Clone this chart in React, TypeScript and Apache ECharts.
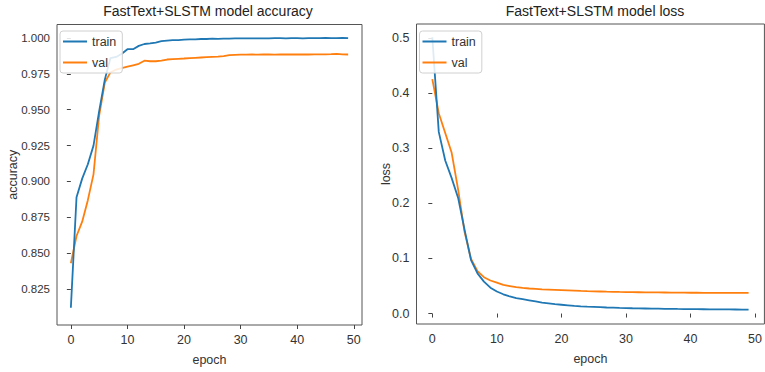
import React, { useEffect, useRef } from "react";
import * as echarts from "echarts";

const epochs: number[] = Array.from({ length: 50 }, (_, i) => i);

const trainAcc: number[] = [
  0.812, 0.889, 0.902, 0.912, 0.925, 0.949, 0.971, 0.986, 0.9868, 0.989,
  0.9922, 0.9922, 0.9945, 0.9958, 0.9962, 0.9968, 0.9978, 0.9982, 0.9985, 0.9985,
  0.9988, 0.999, 0.999, 0.9993, 0.9993, 0.9995, 0.9994, 0.9996, 0.9996, 0.9997,
  0.9997, 0.9997, 0.9998, 0.9998, 0.9997, 0.9998, 0.9999, 0.9999, 0.9998, 0.9999,
  0.9999, 0.9998, 0.9999, 0.9999, 0.9999, 1.0, 0.9999, 0.9999, 1.0, 0.9999,
];
const valAcc: number[] = [
  0.843, 0.862, 0.872, 0.887, 0.905, 0.946, 0.969, 0.976, 0.978, 0.979,
  0.98, 0.981, 0.982, 0.9842, 0.9838, 0.9838, 0.9842, 0.985, 0.9853, 0.9855,
  0.9857, 0.986, 0.9862, 0.9864, 0.9866, 0.9868, 0.987, 0.9874, 0.988, 0.9883,
  0.9884, 0.9884, 0.9885, 0.9884, 0.9885, 0.9885, 0.9884, 0.9885, 0.9886, 0.9885,
  0.9885, 0.9886, 0.9885, 0.9886, 0.9886, 0.9886, 0.9887, 0.9889, 0.9886, 0.9885,
];
const trainLoss: number[] = [
  0.502, 0.33, 0.278, 0.246, 0.21, 0.152, 0.097, 0.073, 0.058, 0.047,
  0.04, 0.035, 0.031, 0.028, 0.026, 0.024, 0.022, 0.02, 0.0185, 0.017,
  0.016, 0.015, 0.014, 0.0132, 0.0125, 0.012, 0.0115, 0.011, 0.0106, 0.0102,
  0.0099, 0.0096, 0.0094, 0.0092, 0.009, 0.0088, 0.0086, 0.0085, 0.0083, 0.0082,
  0.008, 0.0079, 0.0078, 0.0077, 0.0076, 0.0075, 0.0074, 0.0073, 0.0072, 0.0071,
];
const valLoss: number[] = [
  0.426, 0.364, 0.328, 0.292, 0.225, 0.148, 0.099, 0.077, 0.066, 0.06,
  0.056, 0.052, 0.05, 0.048, 0.0465, 0.0455, 0.0448, 0.044, 0.0435, 0.043,
  0.0425, 0.042, 0.0415, 0.041, 0.0406, 0.0403, 0.04, 0.0397, 0.0395, 0.0392,
  0.039, 0.0388, 0.0387, 0.0385, 0.0384, 0.0383, 0.0382, 0.0381, 0.038, 0.0379,
  0.0378, 0.0378, 0.0377, 0.0377, 0.0376, 0.0376, 0.0376, 0.0375, 0.0375, 0.0375,
];

const xTicks: number[] = [0, 10, 20, 30, 40, 50];
const accTickStep = 0.025;
const lossTicks: number[] = [0.0, 0.1, 0.2, 0.3, 0.4, 0.5];

const titles: string[] = ["FastText+SLSTM model accuracy", "FastText+SLSTM model loss"];
const yNames: string[] = ["accuracy", "loss"];
const seriesNames: string[] = ["train", "val"];

const FONT = "'Liberation Sans', Arial, sans-serif";
const BLUE = "#1f77b4";
const ORANGE = "#ff7f0e";

export default function App() {
  const ref = useRef<HTMLDivElement>(null);
  useEffect(() => {
    if (!ref.current) return;
    const chart = echarts.init(ref.current, null, { renderer: "svg" });
    const pairs = (vals: number[]) => epochs.map((e, i) => [e, vals[i]]);

    const xAxisBase = (gridIndex: number) => ({
      type: "value",
      gridIndex,
      min: -2.45,
      max: 51.45,
      name: "epoch",
      nameLocation: "middle",
      nameGap: 28,
      nameMoveOverlap: false,
      nameTextStyle: { fontFamily: FONT, fontSize: 12.5, color: "#333" },
      axisLine: { show: false },
      splitLine: { show: false },
      axisTick: {
        show: true,
        inside: false,
        length: 4,
        customValues: xTicks,
        lineStyle: { color: "#444" },
      },
      axisLabel: {
        customValues: xTicks,
        margin: 8,
        interval: 0,
        hideOverlap: false,
        fontFamily: FONT,
        fontSize: 12.5,
        color: "#333",
        showMinLabel: true,
        showMaxLabel: true,
      },
    });

    const yStyle = (gridIndex: number, nameGap: number) => ({
      type: "value",
      gridIndex,
      name: yNames[gridIndex],
      nameLocation: "middle",
      nameGap,
      nameMoveOverlap: false,
      nameTextStyle: { fontFamily: FONT, fontSize: 12.5, color: "#333" },
      axisLine: { show: false },
      splitLine: { show: false },
    });
    const labelStyle = {
      margin: 7,
      hideOverlap: false,
      fontFamily: FONT,
      fontSize: 11.5,
      color: "#333",
    };

    const legendBase = (left: number) => ({
      orient: "vertical",
      left,
      top: 31,
      data: seriesNames,
      icon: "rect",
      itemWidth: 24,
      itemHeight: 2,
      itemGap: 8,
      backgroundColor: "rgba(255,255,255,0.85)",
      borderColor: "#d0d0d0",
      borderWidth: 1,
      borderRadius: 3,
      padding: [4, 6, 4, 3],
      textStyle: { fontFamily: FONT, fontSize: 12.5, color: "#333" },
      selectedMode: false,
    });

    const lineSeries = (name: string, vals: number[], idx: number, color: string) => ({
      type: "line",
      name,
      data: pairs(vals),
      xAxisIndex: idx,
      yAxisIndex: idx,
      showSymbol: false,
      symbol: "none",
      lineStyle: { color, width: 1.8 },
      itemStyle: { color },
      z: name === "train" ? 3 : 2,
    });

    chart.setOption({
      animation: false,
      backgroundColor: "#ffffff",
      grid: [
        { left: 57, top: 24.5, width: 305, height: 300.5, show: true, borderColor: "#555", borderWidth: 1, backgroundColor: "transparent" },
        { left: 416.5, top: 24, width: 357.5, height: 300, show: true, borderColor: "#555", borderWidth: 1, backgroundColor: "transparent" },
      ],
      xAxis: [xAxisBase(0), xAxisBase(1)],
      yAxis: [
        {
          ...yStyle(0, 38),
          min: 0.8,
          max: 1.0094,
          interval: accTickStep,
          axisTick: { show: true, inside: false, length: 4, lineStyle: { color: "#444" } },
          axisLabel: {
            ...labelStyle,
            showMinLabel: false,
            showMaxLabel: false,
            formatter: (v: number) => (v < 0.81 ? "" : v.toFixed(3)),
          },
        },
        {
          ...yStyle(1, 24),
          min: -0.019,
          max: 0.526,
          axisTick: { show: true, inside: false, length: 4, customValues: lossTicks, lineStyle: { color: "#444" } },
          axisLabel: {
            ...labelStyle,
            fontSize: 12.5,
            customValues: lossTicks,
            interval: 0,
            formatter: (v: number) => v.toFixed(1),
          },
        },
      ],
      legend: [legendBase(60), legendBase(419.5)],
      series: [
        lineSeries(seriesNames[0], trainAcc, 0, BLUE),
        lineSeries(seriesNames[1], valAcc, 0, ORANGE),
        lineSeries(seriesNames[0], trainLoss, 1, BLUE),
        lineSeries(seriesNames[1], valLoss, 1, ORANGE),
      ],
      graphic: [
        {
          type: "text",
          x: 208,
          y: 11,
          style: { text: titles[0], fontFamily: FONT, fontSize: 14, fill: "#222", textAlign: "center", textVerticalAlign: "middle" },
        },
        {
          type: "text",
          x: 595,
          y: 11,
          style: { text: titles[1], fontFamily: FONT, fontSize: 14, fill: "#222", textAlign: "center", textVerticalAlign: "middle" },
        },
      ],
    });
    return () => chart.dispose();
  }, []);
  return (
    <div
      ref={ref}
      style={{ position: "fixed", left: 0, top: 0, width: 765, height: 372, overflow: "hidden", background: "#fff" }}
    />
  );
}
